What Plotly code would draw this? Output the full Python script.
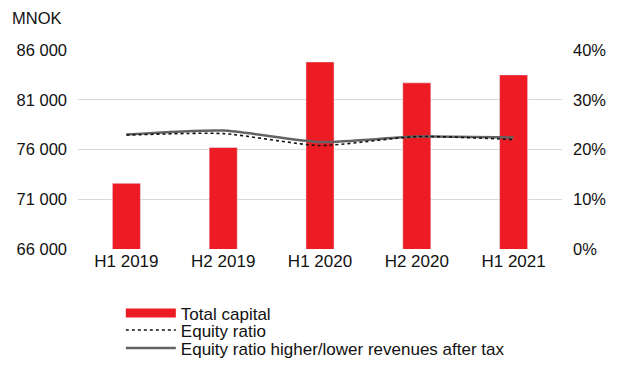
import plotly.graph_objects as go

categories = ["H1 2019", "H2 2019", "H1 2020", "H2 2020", "H1 2021"]
total_capital = [72600, 76200, 84800, 82700, 83500]
equity_ratio = [22.9, 23.2, 20.8, 22.6, 22.0]
equity_ratio_adj = [23.0, 23.8, 21.5, 22.6, 22.4]

RED = "#ED1C24"
FONT = "Liberation Sans, Arial, sans-serif"
FS = 17

fig = go.Figure()
fig.add_trace(go.Bar(x=categories, y=total_capital, marker_color=RED, width=0.29,
                     showlegend=False, yaxis="y"))
fig.add_trace(go.Scatter(x=[None], y=[None], mode="lines", name="Total capital",
                         line=dict(color=RED, width=9), legend="legend"))
fig.add_trace(go.Scatter(x=categories, y=equity_ratio_adj, mode="lines", yaxis="y2",
                         name="Equity ratio higher/lower revenues after tax",
                         line=dict(color="#636363", width=2.5, shape="spline", smoothing=0.6),
                         legend="legend3"))
fig.add_trace(go.Scatter(x=categories, y=equity_ratio, mode="lines", yaxis="y2",
                         name="Equity ratio",
                         line=dict(color="#111111", width=1.6, dash="dot", shape="spline", smoothing=0.6),
                         legend="legend2"))

leg = dict(x=0.0885, xanchor="left", yanchor="top", orientation="v",
           itemwidth=50, font=dict(size=FS), bgcolor="rgba(0,0,0,0)")

fig.update_layout(
    width=640, height=372,
    margin=dict(l=78, r=78, t=50, b=123, autoexpand=False),
    paper_bgcolor="white", plot_bgcolor="white",
    font=dict(family=FONT, size=FS, color="#111111"),
    separators=". ",
    xaxis=dict(showgrid=False, showline=False, ticks="", tickfont=dict(size=FS)),
    yaxis=dict(range=[66000, 86000], tick0=66000, dtick=5000, tickformat=",d", showgrid=True,
               gridcolor="#d9d9d9", gridwidth=1, zeroline=False, showline=False,
               ticks="", ticklabelstandoff=10, tickfont=dict(size=16.5)),
    yaxis2=dict(range=[0, 40], dtick=10, ticksuffix="%", overlaying="y", side="right",
                showgrid=False, zeroline=False, showline=False, ticks="",
                ticklabelstandoff=10, tickfont=dict(size=16.5)),
    legend=dict(leg, y=-0.233),
    legend2=dict(leg, y=-0.319),
    legend3=dict(leg, y=-0.409),
    bargap=0.7,
    annotations=[dict(text="MNOK", xref="paper", yref="paper", x=-0.1405, y=1.0,
                      yshift=32, xanchor="left", yanchor="middle", showarrow=False,
                      font=dict(size=16.5))],
)

fig.write_html("out.html", config={"displayModeBar": False},
               post_script="document.body.style.margin='0';")
